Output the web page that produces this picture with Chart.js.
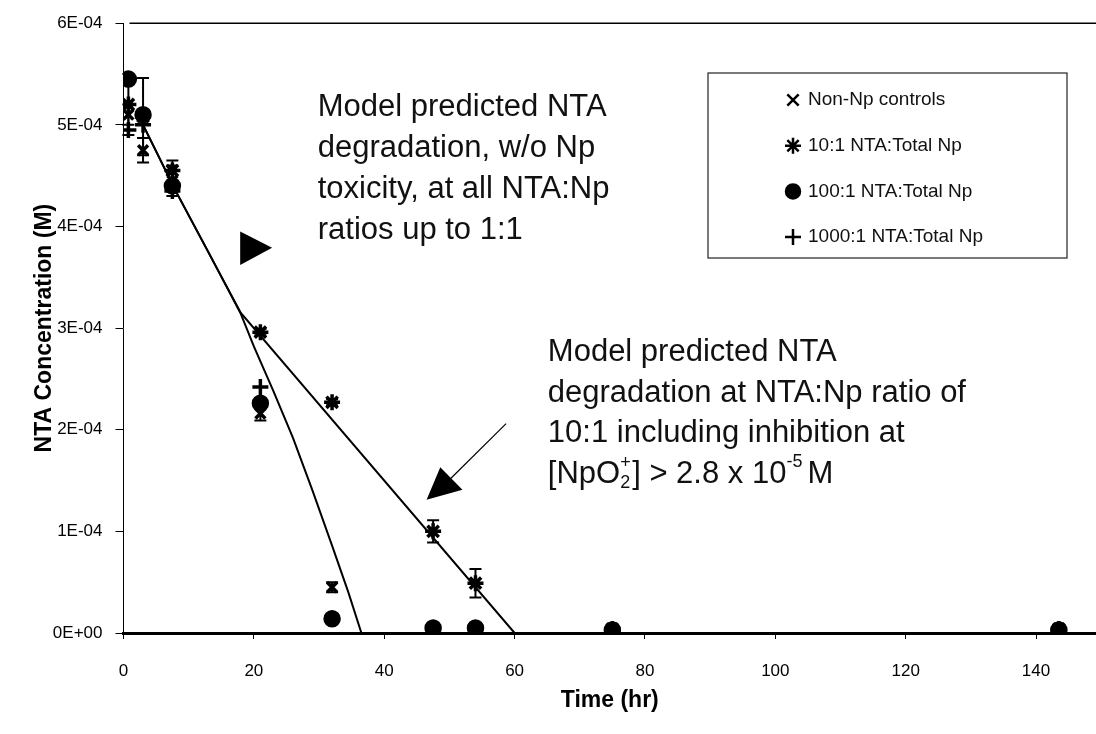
<!DOCTYPE html>
<html>
<head>
<meta charset="utf-8">
<script src="https://cdn.jsdelivr.net/npm/chart.js@4.4.1/dist/chart.umd.min.js"></script>
<style>
  html, body { margin: 0; padding: 0; background: #fff; overflow: hidden; }
  #wrap { width: 1096px; height: 734px; position: relative; }
  canvas { display: block; }
</style>
</head>
<body>
<div id="wrap"><canvas id="c"></canvas></div>
<script>
// ── Data (concentrations in units of 1E-04 M) ────────────────────────────
const times      = [0.75, 3, 7.5, 21, 32, 47.5, 54, 75, 143.5];
const ctrlConc   = [5.1, 4.75, 4.45, 2.16, 0.45, 0.05, 0.05, 0.03, 0.03];
const ctrlErr    = [0.1, 0.12, 0.15, 0.07, 0.05, 0, 0, 0, 0];
const np10Conc   = [5.2, 5.08, 4.55, 2.96, 2.27, 1.0, 0.49, 0.04, 0.04];
const np10Err    = [0.3, 0.38, 0.1, 0.03, 0.03, 0.11, 0.14, 0, 0];
const np100Conc  = [5.45, 5.1, 4.4, 2.26, 0.14, 0.05, 0.05, 0.03, 0.03];
const np1000Conc = [4.95, 5.0, 4.35, 2.42, 0.14, 0.05, 0.05, 0.03, 0.03];

// model curves
const fastT = [3, 8, 13, 18, 20, 23, 26, 29, 32, 34.5, 36.5];
const fastC = [5.0, 4.35, 3.75, 3.14, 2.82, 2.38, 1.92, 1.40, 0.86, 0.40, 0];
const slowT = [3, 8, 18, 60];
const slowC = [5.0, 4.35, 3.15, 0];

const xTicks = [0, 20, 40, 60, 80, 100, 120, 140];
const legendLabels = ["Non-Np controls", "10:1 NTA:Total Np", "100:1 NTA:Total Np", "1000:1 NTA:Total Np"];
const legendStyles = ["crossRot", "star", "circle", "cross"];

const E4 = 1e-4;
const pts = (xs, ys) => xs.map((x, i) => ({ x, y: ys[i] * E4 }));
const FONT = "'Liberation Sans', Arial, sans-serif";

// ── Plugins ────────────────────────────────────────────────────────────────
const errorBars = {
  id: "errorBars",
  afterDatasetsDraw(chart) {
    const { ctx, scales: { x, y } } = chart;
    ctx.save(); ctx.strokeStyle = "#000"; ctx.lineWidth = 2;
    chart.data.datasets.forEach(ds => {
      if (!ds.err) return;
      ds.data.forEach((p, i) => {
        const e = ds.err[i]; if (!e) return;
        const px = x.getPixelForValue(p.x);
        const top = y.getPixelForValue(p.y + e * E4), bot = y.getPixelForValue(p.y - e * E4);
        ctx.beginPath();
        ctx.moveTo(px, top); ctx.lineTo(px, bot);
        ctx.moveTo(px - 6, top); ctx.lineTo(px + 6, top);
        ctx.moveTo(px - 6, bot); ctx.lineTo(px + 6, bot);
        ctx.stroke();
      });
    });
    ctx.restore();
  }
};

function tri(ctx, x, y, a, b, c) {
  ctx.beginPath();
  ctx.moveTo(x.getPixelForValue(a[0]), y.getPixelForValue(a[1] * E4));
  ctx.lineTo(x.getPixelForValue(b[0]), y.getPixelForValue(b[1] * E4));
  ctx.lineTo(x.getPixelForValue(c[0]), y.getPixelForValue(c[1] * E4));
  ctx.closePath(); ctx.fill();
}

const notes = {
  id: "notes",
  afterDraw(chart) {
    const { ctx, chartArea: ca, scales: { x, y } } = chart;
    ctx.save();
    // top frame line
    ctx.strokeStyle = "#000"; ctx.lineWidth = 1.5;
    ctx.beginPath(); ctx.moveTo(ca.left + 6, ca.top); ctx.lineTo(ca.right, ca.top); ctx.stroke();

    ctx.fillStyle = "#111"; ctx.textBaseline = "middle"; ctx.textAlign = "left";
    ctx.font = "31px " + FONT;
    const n1 = ["Model predicted NTA", "degradation, w/o Np", "toxicity, at all NTA:Np", "ratios up to 1:1"];
    const x1 = x.getPixelForValue(29.8), y1 = y.getPixelForValue(5.17 * E4);
    n1.forEach((t, i) => ctx.fillText(t, x1, y1 + i * 41));

    const n2 = ["Model predicted NTA", "degradation at NTA:Np ratio of", "10:1 including inhibition at"];
    const x2 = x.getPixelForValue(65.1), y2 = y.getPixelForValue(2.76 * E4);
    n2.forEach((t, i) => ctx.fillText(t, x2, y2 + i * 40.5));
    // last line with sub/superscripts
    let cx = x2; const ly = y2 + 3 * 40.5;
    const put = (t, f, dy) => { ctx.font = f + "px " + FONT; ctx.fillText(t, cx, ly + dy); return ctx.measureText(t).width; };
    cx += put("[NpO", 31, 0);
    const w2 = put("2", 18, 9);
    put("+", 18, -11);
    cx += Math.max(w2, 11) + 1;
    cx += put("] > 2.8 x 10", 31, 0);
    cx += put("-5", 18, -12) + 5;
    put("M", 31, 0);

    // arrows
    ctx.fillStyle = "#000";
    tri(ctx, x, y, [22.8, 3.79], [17.9, 3.95], [17.9, 3.62]);
    tri(ctx, x, y, [46.5, 1.31], [48.6, 1.63], [52.0, 1.41]);
    ctx.lineWidth = 1.2;
    ctx.beginPath();
    ctx.moveTo(x.getPixelForValue(50.2), y.getPixelForValue(1.52 * E4));
    ctx.lineTo(x.getPixelForValue(58.7), y.getPixelForValue(2.06 * E4));
    ctx.stroke();

    // legend box
    ctx.strokeStyle = "#222"; ctx.lineWidth = 1.2;
    ctx.strokeRect(708, 73, 359, 185);
    ctx.font = "19px " + FONT;
    legendLabels.forEach((t, i) => {
      const ly2 = 100 + i * 45.7;
      ctx.fillStyle = "#000"; ctx.strokeStyle = "#000"; ctx.lineWidth = 2.5;
      Chart.helpers.drawPoint(ctx, { pointStyle: legendStyles[i], radius: i === 2 ? 7 : 8, borderWidth: 2.5, rotation: 0 }, 793, ly2);
      ctx.fillStyle = "#111";
      ctx.fillText(t, 808, ly2);
    });
    ctx.restore();
  }
};

// ── Chart ──────────────────────────────────────────────────────────────────
const marker = (label, data, style, err, r) => ({
  label, data, err, pointStyle: style, pointRadius: r, pointHoverRadius: r,
  borderColor: "#000", backgroundColor: "#000", pointBorderWidth: 3.5, showLine: false
});
const model = (label, data) => ({
  label, data, showLine: true, pointRadius: 0, borderColor: "#000", borderWidth: 2, tension: 0, fill: false
});

new Chart(document.getElementById("c"), {
  type: "scatter",
  data: {
    datasets: [
      model("fast model", pts(fastT, fastC)),
      model("inhibited model", pts(slowT, slowC)),
      marker("Non-Np controls", pts(times, ctrlConc), "crossRot", ctrlErr, 7),
      marker("10:1 NTA:Total Np", pts(times, np10Conc), "star", np10Err, 8),
      marker("100:1 NTA:Total Np", pts(times, np100Conc), "circle", null, 7),
      marker("1000:1 NTA:Total Np", pts(times, np1000Conc), "cross", null, 8)
    ]
  },
  options: {
    responsive: true, maintainAspectRatio: false, animation: false,
    layout: { autoPadding: false, padding: { top: 23, right: 0, left: 0, bottom: 0 } },
    plugins: { legend: { display: false }, tooltip: { enabled: false } },
    scales: {
      x: {
        type: "linear", min: 0, max: 149.2,
        afterFit: s => { s.height = 101; s.paddingRight = 0; s.paddingLeft = 0; },
        afterBuildTicks: s => { s.ticks = xTicks.map(v => ({ value: v })); },
        ticks: { font: { size: 17, family: FONT }, color: "#000", padding: 22 },
        grid: { drawOnChartArea: false, drawTicks: true, tickLength: 6, color: "#000" },
        border: { color: "#000", width: 3 },
        title: { display: true, text: "Time (hr)", color: "#000",
                 font: { size: 23, weight: "bold", family: FONT }, padding: { top: 0, bottom: 20 } }
      },
      y: {
        min: 0, max: 6e-4,
        afterFit: s => { s.width = 123.5; },
        ticks: { stepSize: 1e-4, font: { size: 17, family: FONT }, color: "#000", padding: 13,
                 callback: v => v === 0 ? "0E+00" : Math.round(v / E4) + "E-04" },
        grid: { drawOnChartArea: false, drawTicks: true, tickLength: 8, color: "#000" },
        border: { color: "#000", width: 1, dash: [3, 3] },
        title: { display: true, text: "NTA Concentration (M)", color: "#000",
                 font: { size: 23, weight: "bold", family: FONT }, padding: { top: 31 } }
      }
    }
  },
  plugins: [errorBars, notes]
});
</script>
</body>
</html>
